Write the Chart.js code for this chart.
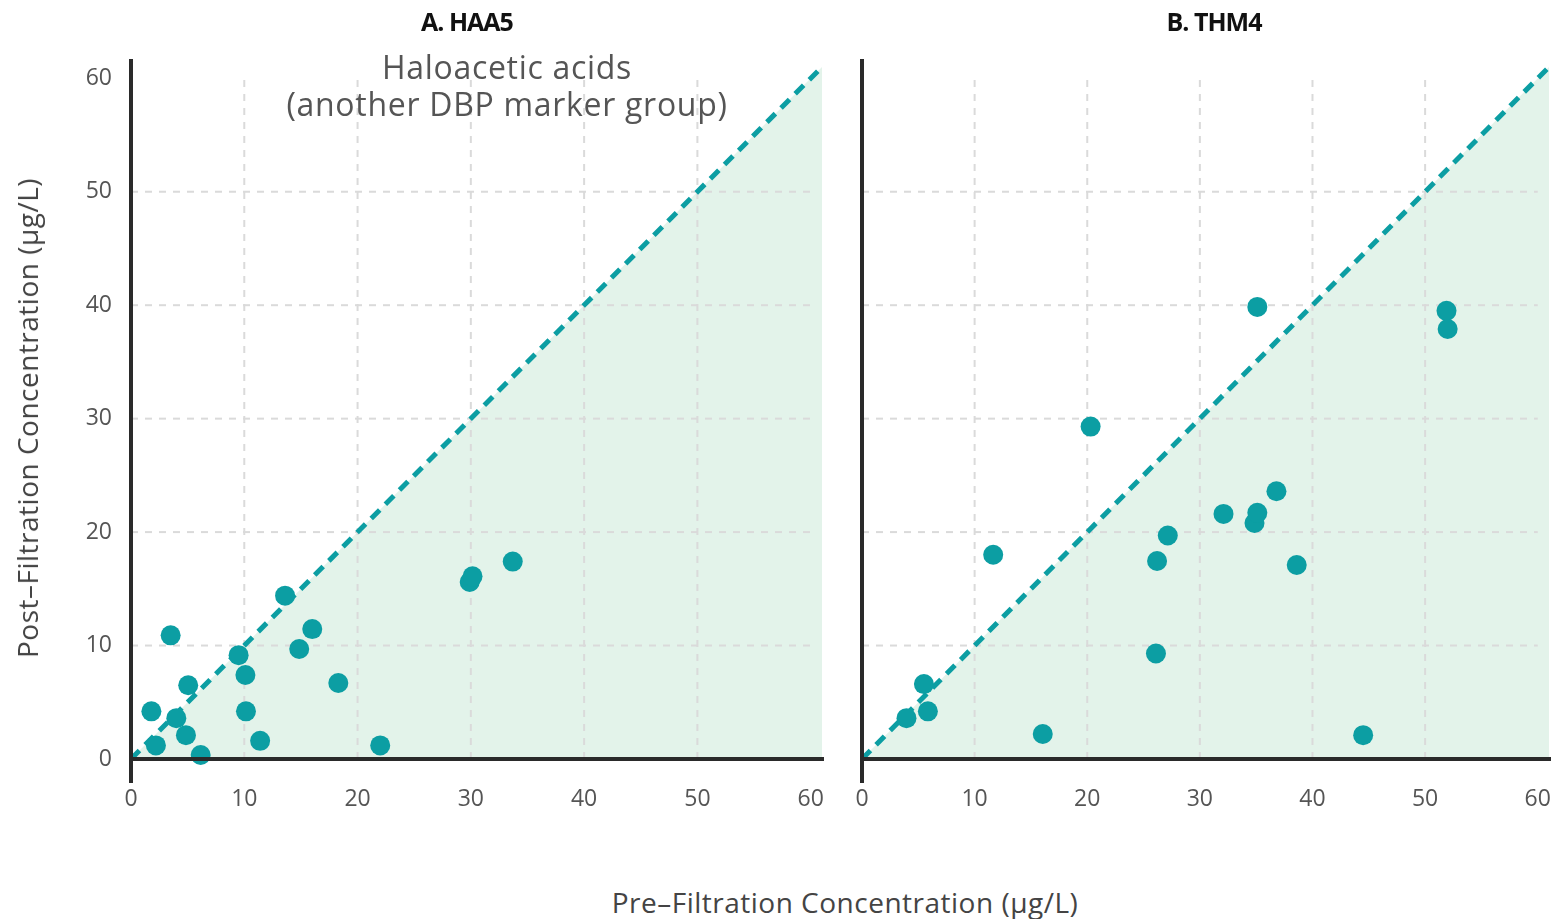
<!DOCTYPE html>
<html lang="en">
<head>
<meta charset="utf-8">
<title>HAA5 / THM4 pre vs post filtration</title>
<script src="https://cdn.jsdelivr.net/npm/chart.js@4.4.1/dist/chart.umd.min.js"></script>
<style>
  html, body { margin: 0; padding: 0; background: #fff; }
  body { width: 1559px; height: 919px; position: relative; overflow: hidden; font-family: "Open Sans", Lato, sans-serif; }
  .panel { position: absolute; top: 0; height: 830px; }
  #panelA { left: 0; width: 840px; }
  #panelB { left: 845px; width: 714px; }
  .title { position: absolute; top: 4px; font-size: 25px; font-weight: 700; color: #111; transform: translateX(-50%); white-space: nowrap; letter-spacing: -1px; }
  .note { position: absolute; left: 507px; top: 48px; transform: translateX(-50%); text-align: center; font-size: 32px; line-height: 37px; letter-spacing: 0.7px; color: #555; white-space: nowrap; }
  .ylab { position: absolute; left: 27px; top: 418px; transform: translate(-50%, -50%) rotate(-90deg); font-size: 28px; letter-spacing: 0.5px; color: #444; white-space: nowrap; }
  .xlab { position: absolute; left: 845px; top: 902px; transform: translate(-50%, -50%); font-size: 28px; letter-spacing: 0.5px; color: #444; white-space: nowrap; }
</style>
</head>
<body>
  <div class="panel" id="panelA"><canvas id="chartA"></canvas></div>
  <div class="panel" id="panelB"><canvas id="chartB"></canvas></div>
  <div class="title" style="left:467px">A. HAA5</div>
  <div class="title" style="left:1214px">B. THM4</div>
  <div class="note">Haloacetic acids<br>(another DBP marker group)</div>
  <div class="ylab">Post–Filtration Concentration (µg/L)</div>
  <div class="xlab">Pre–Filtration Concentration (µg/L)</div>

<script>
// --- data (µg/L) ---
const haaPre  = [13.6, 3.5, 16.0, 14.85, 9.5, 10.1, 18.3, 5.05, 1.8, 10.15, 4.0, 4.85, 11.4, 2.2, 22.0, 6.15, 29.9, 30.15, 33.7];
const haaPost = [14.4, 10.9, 11.45, 9.7, 9.15, 7.4, 6.7, 6.5, 4.2, 4.2, 3.6, 2.1, 1.6, 1.2, 1.2, 0.35, 15.6, 16.1, 17.4];

const thmPre  = [3.95, 5.5, 5.85, 11.65, 16.05, 20.3, 26.1, 26.2, 27.15, 32.1, 34.85, 35.1, 35.1, 36.8, 38.6, 44.5, 51.9, 52.0];
const thmPost = [3.6, 6.6, 4.2, 18.0, 2.2, 29.3, 9.3, 17.45, 19.7, 21.6, 20.8, 21.7, 39.85, 23.6, 17.1, 2.1, 39.5, 37.9];

const tickValues = [0, 10, 20, 30, 40, 50, 60];
const gridValues = [10, 20, 30, 40, 50];
const parityLine = [0, 61];   // y = x reference

const TEAL = "#0c9ea3";
const FILL = "#e3f3ea";
const AXIS = "#2a2a2a";
const GRID = "#dadada";

// grid + heavy axis lines, drawn through the chart scales
const frame = {
  id: "frame",
  beforeDatasetsDraw(chart) {
    const { ctx, scales: { x, y } } = chart;
    ctx.save();
    ctx.strokeStyle = GRID;
    ctx.lineWidth = 2;
    ctx.setLineDash([7, 7]);
    gridValues.forEach((v) => {
      ctx.beginPath();
      ctx.moveTo(x.getPixelForValue(0), y.getPixelForValue(v));
      ctx.lineTo(x.getPixelForValue(60), y.getPixelForValue(v));
      ctx.stroke();
      ctx.beginPath();
      ctx.moveTo(x.getPixelForValue(v), y.getPixelForValue(0));
      ctx.lineTo(x.getPixelForValue(v), y.getPixelForValue(60));
      ctx.stroke();
    });
    ctx.restore();
  },
  afterDatasetsDraw(chart) {
    const { ctx, chartArea: a } = chart;
    ctx.save();
    ctx.strokeStyle = AXIS;
    ctx.lineWidth = 4;
    ctx.beginPath();
    ctx.moveTo(a.left, a.top);
    ctx.lineTo(a.left, a.bottom + 24);
    ctx.moveTo(a.left - 2, a.bottom);
    ctx.lineTo(a.right + 2, a.bottom);
    ctx.stroke();
    ctx.restore();
  },
};

function makePanel(canvasId, pre, post, showY, yWidth, padRight) {
  const points = pre.map((v, i) => ({ x: v, y: post[i] }));
  const diag = parityLine.map((v) => ({ x: v, y: v }));

  return new Chart(document.getElementById(canvasId), {
    type: "scatter",
    data: {
      datasets: [
        {
          data: points,
          backgroundColor: TEAL,
          borderWidth: 0,
          pointRadius: 10,
          pointHoverRadius: 10,
          clip: false,
        },
        {
          type: "line",
          data: diag,
          borderColor: TEAL,
          borderWidth: 5,
          borderDash: [12, 8],
          pointRadius: 0,
          fill: "origin",
          backgroundColor: FILL,
          clip: false,
        },
      ],
    },
    options: {
      responsive: true,
      maintainAspectRatio: false,
      animation: false,
      layout: { padding: { top: 59, right: padRight, left: 0, bottom: 0 } },
      plugins: {
        legend: { display: false },
        tooltip: { enabled: false },
        filler: { drawTime: "beforeDatasetsDraw" },
      },
      scales: {
        x: {
          type: "linear",
          min: 0,
          max: 61,
          grid: { display: false, drawTicks: false },
          border: { display: false },
          afterBuildTicks: (s) => { s.ticks = tickValues.map((v) => ({ value: v })); },
          afterFit: (s) => { s.height = 71; s.paddingLeft = 0; s.paddingRight = 0; },
          ticks: { padding: 27, color: "#555", font: { family: "Open Sans", size: 23 }, maxRotation: 0 },
        },
        y: {
          type: "linear",
          min: 0,
          max: 61.7,
          grid: { display: false, drawTicks: false },
          border: { display: false },
          afterBuildTicks: (s) => { s.ticks = tickValues.map((v) => ({ value: v })); },
          afterFit: (s) => { s.width = yWidth; s.paddingTop = 0; s.paddingBottom = 0; },
          ticks: { display: showY, padding: 19, color: "#555", font: { family: "Open Sans", size: 23 } },
        },
      },
    },
    plugins: [frame],
  });
}

makePanel("chartA", haaPre, haaPost, true, 131, 18);
makePanel("chartB", thmPre, thmPost, false, 17, 6);
</script>
</body>
</html>
